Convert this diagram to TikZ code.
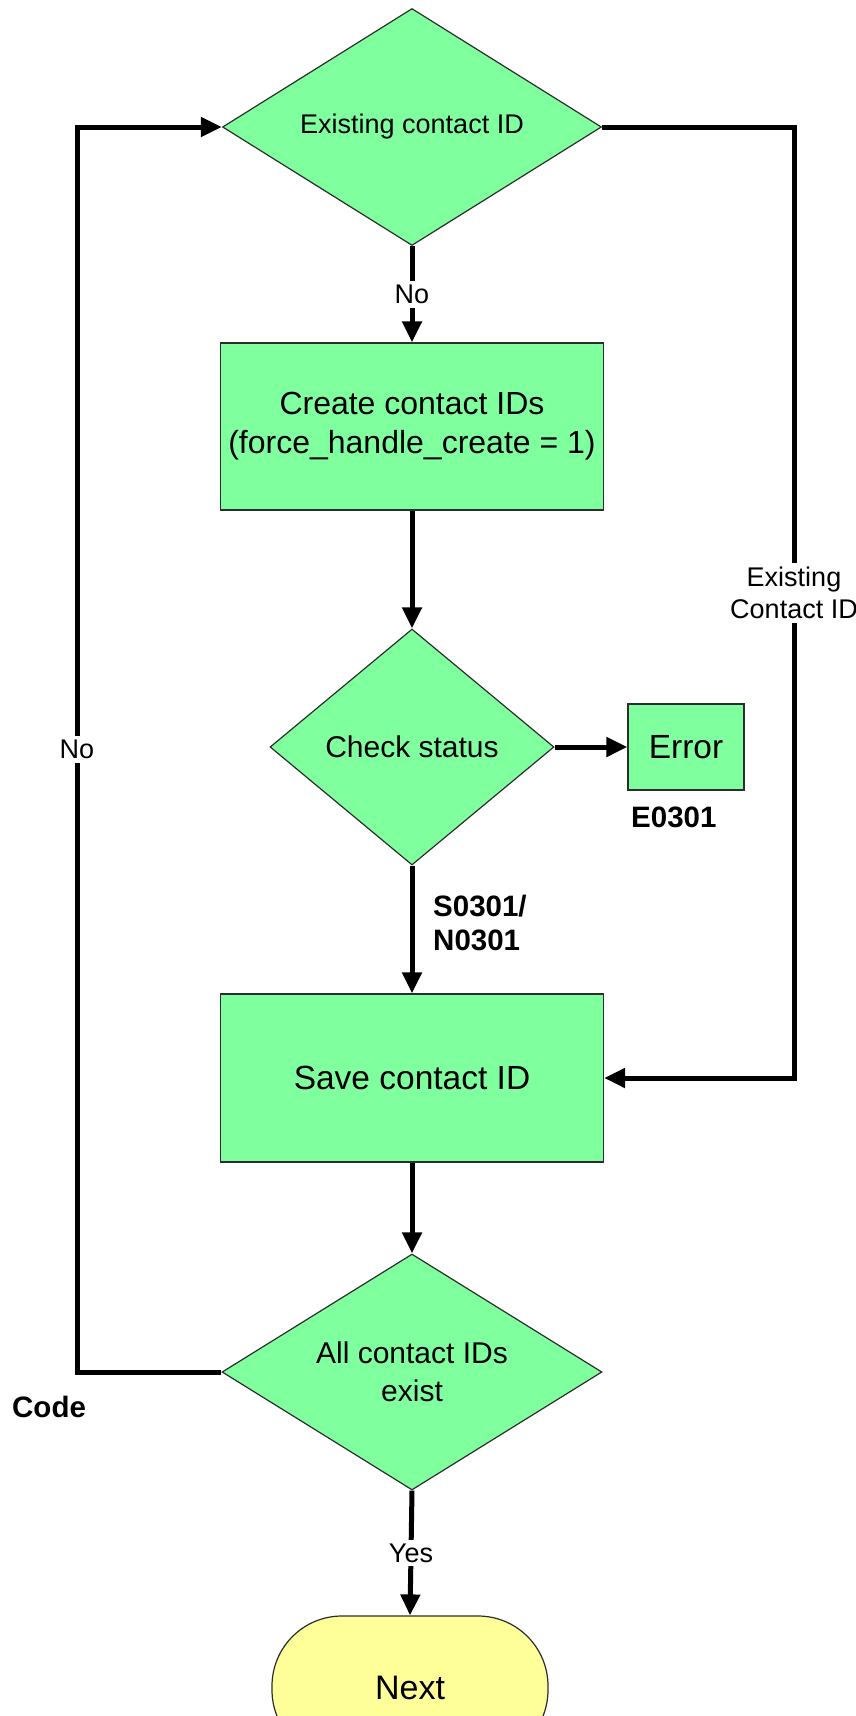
\documentclass[tikz,border=0pt]{standalone}
\usepackage{fontspec}
\setmainfont{Liberation Sans}
\usetikzlibrary{shapes.geometric,arrows.meta}
\definecolor{boxgreen}{RGB}{128,255,158}
\definecolor{termyellow}{RGB}{255,255,153}
\definecolor{edgegray}{RGB}{45,45,45}
\begin{document}
\begin{tikzpicture}[x=1pt,y=-1pt,
  shapebase/.style={draw=edgegray, line width=1.2pt, inner sep=0pt, align=center,
    font=\fontsize{31}{39}\selectfont},
  decision/.style={shapebase, diamond, fill=boxgreen},
  process/.style={shapebase, rectangle, fill=boxgreen},
  term/.style={shapebase, rectangle, rounded corners=70pt, fill=termyellow},
  conn/.style={line width=5pt, -{Triangle[length=21pt,width=19pt]}},
  lbl/.style={fill=white, inner sep=4pt, align=center, font=\fontsize{27}{32}\selectfont},
  codelabel/.style={inner sep=0pt, align=left, font=\bfseries\fontsize{29.5}{34}\selectfont}]
\useasboundingbox (0,0) rectangle (856,1716);
\clip (0,0) rectangle (856,1716);

\node[decision, shape aspect=1.6, minimum width=379pt, minimum height=237pt, font=\fontsize{27}{32}\selectfont] (d1) at (412,127) {Existing contact ID};
\node[process, minimum width=383pt, minimum height=167pt, font=\fontsize{32}{39}\selectfont] (p1) at (412,426.5) {Create contact IDs\\(force\_handle\_create = 1)};
\node[decision, shape aspect=1.2, minimum width=284pt, minimum height=236pt, font=\fontsize{30}{38}\selectfont] (d2) at (412,747) {Check status};
\node[process, minimum width=116pt, minimum height=86pt, font=\fontsize{33.5}{40}\selectfont] (err) at (686,747) {Error};
\node[process, minimum width=383pt, minimum height=168pt, font=\fontsize{33.5}{40}\selectfont] (p2) at (412,1078) {Save contact ID};
\node[decision, shape aspect=1.6, minimum width=380pt, minimum height=236pt, font=\fontsize{30}{38}\selectfont] (d3) at (412,1372) {All contact IDs\\exist};
\node[term, minimum width=276pt, minimum height=144pt, font=\fontsize{34}{40}\selectfont] (next) at (410,1688) {Next};

\node[codelabel, anchor=west] (e0301) at (631,817) {E0301};
\node[codelabel, anchor=west] (s0301) at (433,923) {S0301/\\N0301};
\node[codelabel, anchor=west] (codelbl) at (12,1407) {Code};

\coordinate (rtop) at (794,127);
\coordinate (lbot) at (77,1372);

\draw[conn] (d1.south) -- node[lbl] (nolbl) {No} (p1.north);
\draw[conn] (p1.south) -- (d2.north);
\draw[conn] (d2.east) -- (err.west);
\draw[conn] (d2.south) -- (p2.north);
\draw[conn] (p2.south) -- (d3.north);
\draw[conn] (d3.south) -- node[lbl] (yeslbl) {Yes} (next.north);
\draw[conn] (d1.east) -- (rtop) |- node[lbl, pos=0.245] (exlbl) {Existing\\Contact ID} (p2.east);
\draw[conn] (d3.west) -- (lbot) |- node[lbl, pos=0.25] (nolbl2) {No} (d1.west);
\end{tikzpicture}
\end{document}
